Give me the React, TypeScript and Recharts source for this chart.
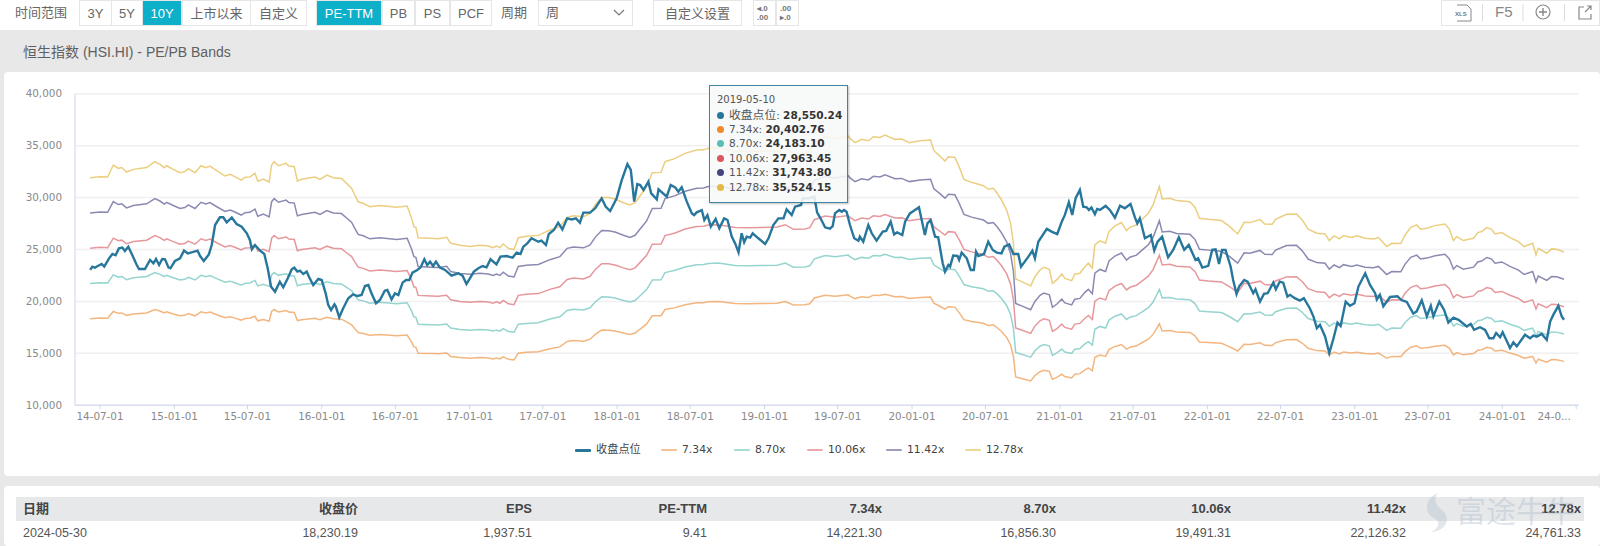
import { CartesianGrid, Legend, Line, LineChart, XAxis, YAxis } from "recharts";

// x values are weeks counted from 2014-07-01
const closeWeeks = [
  -3.5, -2.7, -1.8, -0.8, 0.6, 1.5, 3.2, 4.4, 5.5, 6.7, 7.9, 8.8, 10, 11.4, 13, 13.8, 15.9, 17.7, 18.9, 19.8, 20.9, 22, 23, 24.2, 24.9, 26.5, 28.3, 29.7, 31, 32.4, 34.5, 35.4, 36.7, 38.5, 39.5, 40.7, 42.4, 43.6, 44.8, 46.6, 48.3, 50.1, 51.9, 53, 53.7, 54.8, 56.6, 58.1, 59.3, 60.5, 61.9, 63.6, 64.8, 66.4, 67.8, 68.7, 69.8, 70.7, 71.9, 73.1, 73.9, 75.4, 77.2, 78.4, 79.8, 80.7, 81.7, 82.9,
  83.4, 84.6, 86, 87.8, 89.5, 91, 92.5, 93.7, 94.9, 96, 97.6, 99, 100.7, 101.6, 103.1, 104.3, 105.5, 107, 108.2, 109.4, 110.5, 112.2, 113.4, 114.7, 115.7, 116.7, 117.8, 118.8, 120.2, 122, 124.3, 126.7, 128.2, 129.6, 130.8, 132.2, 133.8, 135.3, 136.7, 138.1, 140.2, 141.6, 143.8, 145.9, 147.3, 148.7, 149.7, 151.1, 152.6, 155, 156.1, 157.7, 158.7, 160.5, 162, 163.5, 165.2, 166.8, 168.3, 169.7,
  170.9, 173.3, 175.1, 177.4, 178.8, 180.4, 182.7, 184.5, 186.5, 187.7, 188.9, 190, 191, 192.2, 193.9, 194.9, 196.9, 197.5, 200.4, 201.8, 203.4, 204.5, 205.7, 207.5, 209.3, 210.1, 211, 212.8, 213.7, 214.8, 216, 217.7, 219, 220.7, 221.9, 223.4, 224.6, 225.8, 226.9, 227.8, 228.7, 229.9, 230.8, 232.8, 235.2, 236.4, 238.1, 239.9, 241.7, 242.8, 244.6, 245.8, 247.9, 248.5, 250.5, 252.6, 253.6,
  254.6, 256.4, 258.1, 259.1, 259.9, 261.4, 262.3, 263.1, 264, 265.2, 266.7, 268.2, 268.7, 269.9, 271.7, 272.9, 274.6, 276.8, 278, 279.6, 280.8, 281.9, 283.7, 284.7, 286.4, 288.2, 289.6, 291.7, 292.6, 293.7, 295.3, 296.4, 298, 298.8, 300, 300.6, 301.7, 303.2, 303.8, 304.7, 306.5, 307.9, 309, 309.8, 310.6, 312.6, 314.1, 315.7, 317.1, 318.8, 319.8, 321.5, 323, 324.7, 325.7, 328.3, 329.7, 330.6, 331.8, 334.8, 336.5, 338.5, 340.1,
  341.2, 342.6, 343.8, 345, 346.5, 347.7, 348.9, 349.7, 350.6, 351.8, 352.6, 353.6, 355.6, 357.1, 358.9, 360.7, 362.4, 364.4, 366, 366.8, 367.7, 369.5, 371.6, 372.8, 374, 375.6, 377.7, 379.5, 381.5, 383.4, 385, 387.4, 388.3, 389.8, 391.9, 393.3, 394.5, 395.7, 396.8, 398, 399.8, 400.7, 401.9, 402.8, 404.6, 405.8, 407.8, 408.6, 410.2, 411.6, 412.9, 414.9, 415.8, 417.2, 418.4, 419.9, 420.8, 422.5, 424.3, 425.7, 427.8,
  429.1, 430.3, 431.4, 433.2, 434.7, 436.2, 437.6, 438.7, 440.5, 442, 443.6, 445, 447.4, 449.1, 450.9, 451.5, 452.6, 453.8, 456.2, 458.8, 460.3, 462.1, 464.4, 465.6, 467.4, 469.2, 470.6, 471.5, 473.6, 475.3, 476.8, 478.6, 480.4, 483.3, 484.7, 485.9, 488, 489.8, 491.3, 492.7, 493.7, 495.1, 496, 498.6, 499.8, 501, 503.9, 505.7, 506.9, 508.1, 509.8, 511.6, 512.8, 513.9, 515.7, 516.9, 517.7,
];

const closeValues = [
  23030, 23350, 23250, 23410, 23600, 23350, 24150, 24570, 24440, 25110, 25180, 24860, 25270, 24470, 23510, 23120, 23120, 23990, 23670, 24090, 23510, 24090, 24060, 23280, 23190, 23890, 24150, 24890, 24630, 24730, 24890, 24370, 23890, 24530, 25430, 27360, 28100, 28100, 27620, 28070, 27460, 27200, 26560, 25920, 25020, 25430, 24890, 24570, 23190, 21420, 20940, 21900, 21360, 22220, 23090, 23250, 22870, 22960, 22640, 22870, 22380, 21580, 22160, 22060, 20780, 19660, 19170, 19720,
  19500, 18470, 19340, 20300, 20680, 20520, 20620, 21480, 21580, 20780, 19820, 20140, 21030, 21100, 20200, 20780, 20620, 21810, 22060, 22060, 22770, 23030, 23280, 24060, 23510, 23830, 23410, 23830, 23250, 23030, 22480, 22710, 22480, 21680, 22220, 22870, 23190, 23410, 23280, 24060, 23570, 24310, 24370, 24210, 24700, 24570, 25270, 25590, 26080, 25750, 25850, 25430, 26490, 26880, 27580, 26940, 28000, 27900, 28000, 27580,
  28550, 28550, 28970, 29930, 29130, 28710, 29930, 31690, 33230, 32660, 29610, 31310, 31210, 30730, 31530, 30410, 29830, 30800, 30090, 31210, 30990, 30570, 30990, 29610, 28480, 28320, 28580, 28800, 27840, 28320, 27200, 27940, 27040, 28000, 27840, 26240, 25590, 24730, 26560, 25690, 26240, 26140, 26560, 26080, 25530, 26080, 27360, 28000, 28000, 28870, 28320, 29130, 29290, 29930, 29930, 30090, 28550,
  28100, 27140, 27010, 27260, 28480, 28800, 28640, 28800, 28640, 27360, 26080, 25850, 26240, 25750, 27360, 26560, 25850, 26720, 26780, 27680, 26460, 26650, 26400, 27680, 28480, 28800, 29060, 26400, 27520, 27840, 26240, 26170, 23670, 22870, 23510, 23350, 24410, 24380, 24000, 24700, 24150, 23030, 23030, 24790, 24370, 24570, 25750, 24950, 24700, 24630, 25270, 25500, 24570, 24570, 23350, 24310, 24890, 24150, 25750, 26980, 26720, 26490, 27680,
  28330, 29550, 28330, 29940, 30740, 29130, 29070, 28810, 29040, 28400, 28910, 28810, 29200, 28810, 28070, 29230, 28970, 29390, 28070, 27530, 28010, 26080, 26400, 24900, 25760, 26240, 24250, 24960, 26180, 24960, 25440, 24000, 24160, 23260, 23420, 24960, 25020, 23610, 24960, 24960, 23360, 22070, 20720, 21430, 22070, 21910, 20790, 21170, 19980, 20720, 20790, 21810, 21170, 21910, 21810, 20470, 20630, 20310, 20080, 20310, 19340,
  18540, 17420, 17740, 16620, 15010, 16450, 17960, 17640, 19980, 19570, 19820, 21430, 22710, 21590, 20790, 20170, 20630, 19530, 20430, 20490, 20110, 19950, 18820, 19040, 20110, 18570, 19570, 18570, 19980, 19180, 17960, 18440, 18220, 17580, 17830, 17260, 17510, 17260, 16450, 16450, 16960, 16550, 17030, 15510, 16060, 15670, 16790, 16450, 16710, 16610, 16870, 16290, 18060, 18700, 19570, 18540, 18230,
];

const bandWeeks = [
  -3.5, 0, 2.7, 4.7, 6.5, 7.7, 9.4, 11.8, 16.5, 19.4, 21.2, 22.7, 23.6, 25.9, 28.3, 30, 31.2, 33.6, 35.7, 37.4, 38.9, 41.3, 44.2, 46, 47.7, 49.9, 51.3, 53, 54.8, 55.8, 57.8, 59.8, 60.7, 61.6, 63.1, 65.8, 66.8, 68.7, 69.8, 71.3, 76, 77.8, 80.2, 82.5,
  85.4, 87.2, 89, 90.1, 91.3, 93.1, 95.4, 99, 104.9, 108.6, 110.2, 111, 111.7, 112.5, 117.2, 119.6, 122.6, 124, 127.3, 130.8, 134.3, 137.3, 139, 140.2, 141.4, 142.6, 144.4, 146.4, 147.9, 150.8, 155, 159.1, 162.6, 165.2, 167.4,
  171, 173.3, 175.1, 177.4, 179.8, 182.1, 185.1, 187.4, 189.2, 191, 193.3, 195.3, 198.4, 199.8, 203.4, 206.9, 211, 213.4, 215.1, 218.6, 224.6, 229.3, 234, 239.5, 242.3, 245.2, 249.3, 251, 252.6, 253.6, 256.4, 260,
  264.6, 265.2, 267, 269.3, 271.7, 273.5, 275.8, 277.6, 281.1, 283.5, 286.2, 290, 293.7, 294.9, 297, 298.8, 300, 302.3, 303.9, 305.5, 308.2, 312.4, 314.1, 315.9, 317.3, 318.8, 320.6, 322, 323, 323.8, 325.9, 329.1, 330.6, 332.4, 333.8, 335.7, 336.8, 338.5, 340.1, 341.2,
  343.6, 344.7, 346.5, 348.3, 349.5, 350.9, 351.8, 353.6, 355.6, 356.8, 358.9, 361.2, 363, 364.2, 366.5, 368.9, 370.7, 372.4, 374.6, 375.6, 378.3, 380.7, 385.4, 387.2, 388.8, 391.9, 396.6, 399.5, 402.3, 404.6, 406.6, 410.2, 411.9, 414.5, 415.7, 419.6, 423.1, 425.1, 427.2,
  430.3, 433.2, 434.7, 436.4, 438.3, 439.7, 442.6, 444.4, 447.4, 450.3, 452.1, 455, 456.8, 460, 461.5, 463.5, 465.6, 467, 469.2, 472.1, 475.6, 477.2, 478.6, 479.8, 482.1, 485.7, 487.2, 488.6, 490.4, 492.1, 493.3, 495.7, 498.6, 501.6, 503.6, 506.6, 507.8, 508.6, 511.6, 513.3, 515.1, 517.7,
];

const band734 = [
  18330, 18390, 18370, 19030, 18850, 18890, 18640, 18790, 18890, 19220, 19070, 18880, 18990, 18790, 18610, 18660, 18830, 18610, 18990, 18880, 18970, 18720, 18420, 18520, 18390, 18200, 18350, 18370, 18570, 18130, 18260, 18090, 19030, 19220, 18990, 19120, 18970, 18940, 18150, 18240, 18370, 18240, 18480, 18330,
  18290, 18020, 17740, 17370, 17000, 16910, 16730, 16800, 16690, 16760, 16080, 15620, 15580, 15010, 14980, 14950, 15030, 14700, 14590, 14530, 14590, 14550, 14460, 14550, 14460, 14660, 14420, 14360, 15010, 15090, 15140, 15440, 15620, 16140, 16230,
  16170, 16360, 16820, 17240, 17230, 17150, 16950, 16820, 16950, 17330, 17830, 18610, 18620, 19220, 19400, 19680, 19860, 19870, 19960, 19990, 19800, 19770, 19800, 19820, 19990, 19650, 19680, 19770, 20330, 20403, 20590, 20500,
  20630, 20500, 20270, 20450, 20380, 20600, 20560, 20690, 20450, 20470, 20270, 20380, 20420, 19830, 19530, 19250, 19490, 19450, 18900, 18240, 18070, 17890, 17690, 17740, 17460, 17100, 16540, 15800, 14700, 12730, 12580, 12340, 12850, 13230, 13370, 13260, 12490, 12700, 13000, 12760,
  12630, 12990, 13040, 13410, 13600, 13320, 14610, 14830, 14700, 15350, 15660, 15850, 15400, 15590, 15720, 16090, 16360, 16820, 17840, 17150, 17190, 17060, 17010, 16690, 16090, 16030, 15960, 15620, 15220, 15860, 15850, 16010, 15770, 15750, 16030, 16310, 16330, 15990, 15480,
  15260, 15220, 14850, 15110, 14940, 15130, 15020, 15110, 14980, 14940, 15020, 14520, 14700, 14680, 15160, 15590, 15720, 15480, 15530, 15680, 15770, 15480, 14850, 15070, 14850, 14980, 15290, 15350, 15570, 15480, 15220, 15290, 15020, 14790, 14520, 14700, 14060, 14430, 14150, 14390, 14370, 14221,
];

const band870 = [
  21730, 21800, 21770, 22560, 22340, 22400, 22100, 22280, 22400, 22780, 22600, 22380, 22510, 22280, 22060, 22130, 22320, 22060, 22510, 22380, 22490, 22190, 21840, 21950, 21800, 21570, 21750, 21770, 22020, 21490, 21640, 21450, 22560, 22780, 22510, 22670, 22490, 22450, 21510, 21620, 21770, 21620, 21900, 21730,
  21680, 21360, 21030, 20590, 20150, 20050, 19830, 19910, 19780, 19870, 19060, 18520, 18470, 17800, 17760, 17730, 17820, 17430, 17290, 17220, 17290, 17250, 17140, 17250, 17140, 17380, 17090, 17030, 17800, 17880, 17950, 18300, 18520, 19130, 19240,
  19170, 19390, 19940, 20440, 20420, 20330, 20090, 19940, 20090, 20550, 21140, 22060, 22080, 22780, 23000, 23320, 23540, 23560, 23660, 23690, 23470, 23430, 23470, 23490, 23690, 23300, 23320, 23430, 24100, 24183, 24410, 24300,
  24460, 24300, 24030, 24240, 24160, 24420, 24370, 24530, 24240, 24260, 24030, 24160, 24200, 23500, 23150, 22820, 23110, 23060, 22410, 21620, 21420, 21210, 20970, 21030, 20700, 20270, 19610, 18740, 17430, 15090, 14910, 14630, 15240, 15680, 15850, 15720, 14800, 15060, 15410, 15130,
  14980, 15400, 15460, 15900, 16120, 15790, 17320, 17590, 17430, 18200, 18570, 18790, 18260, 18480, 18630, 19070, 19400, 19940, 21150, 20340, 20380, 20230, 20160, 19790, 19070, 19000, 18920, 18520, 18040, 18800, 18780, 18980, 18690, 18670, 19000, 19330, 19360, 18960, 18350,
  18090, 18040, 17610, 17910, 17710, 17930, 17800, 17910, 17760, 17710, 17800, 17210, 17430, 17410, 17970, 18480, 18630, 18350, 18420, 18590, 18690, 18350, 17610, 17860, 17610, 17760, 18130, 18200, 18460, 18350, 18040, 18130, 17800, 17540, 17210, 17430, 16670, 17100, 16780, 17060, 17040, 16856,
];

const band1006 = [
  25130, 25210, 25170, 26090, 25840, 25900, 25550, 25760, 25900, 26340, 26140, 25880, 26030, 25760, 25510, 25580, 25810, 25510, 26030, 25880, 26010, 25650, 25250, 25380, 25210, 24950, 25150, 25170, 25460, 24850, 25030, 24800, 26090, 26340, 26030, 26210, 26010, 25960, 24880, 25000, 25170, 25000, 25320, 25130,
  25070, 24690, 24320, 23810, 23300, 23180, 22930, 23030, 22880, 22980, 22040, 21410, 21360, 20580, 20530, 20500, 20600, 20150, 20000, 19920, 20000, 19950, 19820, 19950, 19820, 20100, 19770, 19690, 20580, 20680, 20750, 21160, 21410, 22120, 22250,
  22170, 22420, 23060, 23630, 23620, 23510, 23230, 23060, 23230, 23760, 24440, 25510, 25530, 26340, 26590, 26970, 27220, 27240, 27360, 27390, 27130, 27100, 27130, 27170, 27390, 26940, 26970, 27100, 27870, 27963, 28230, 28100,
  28280, 28100, 27780, 28030, 27930, 28240, 28180, 28360, 28030, 28060, 27780, 27930, 27980, 27170, 26760, 26390, 26720, 26660, 25910, 25000, 24770, 24520, 24250, 24320, 23930, 23430, 22670, 21660, 20150, 17440, 17240, 16920, 17620, 18130, 18330, 18180, 17110, 17410, 17820, 17490,
  17320, 17810, 17880, 18380, 18640, 18260, 20030, 20330, 20150, 21040, 21470, 21730, 21110, 21360, 21550, 22050, 22430, 23060, 24450, 23510, 23570, 23390, 23310, 22880, 22050, 21970, 21880, 21410, 20860, 21740, 21720, 21950, 21620, 21590, 21970, 22360, 22380, 21920, 21220,
  20920, 20860, 20360, 20710, 20480, 20740, 20590, 20710, 20530, 20480, 20590, 19900, 20150, 20130, 20780, 21360, 21550, 21220, 21290, 21490, 21620, 21220, 20360, 20660, 20360, 20530, 20960, 21040, 21340, 21220, 20860, 20960, 20590, 20280, 19900, 20150, 19270, 19770, 19400, 19730, 19700, 19491,
];

const band1142 = [
  28520, 28610, 28580, 29610, 29330, 29400, 29010, 29240, 29400, 29900, 29670, 29380, 29550, 29240, 28950, 29040, 29300, 28950, 29550, 29380, 29520, 29120, 28670, 28810, 28610, 28320, 28550, 28580, 28900, 28210, 28410, 28150, 29610, 29900, 29550, 29760, 29520, 29470, 28240, 28380, 28580, 28380, 28750, 28520,
  28460, 28030, 27600, 27030, 26450, 26320, 26030, 26140, 25970, 26080, 25020, 24310, 24240, 23360, 23300, 23270, 23390, 22880, 22700, 22610, 22700, 22640, 22500, 22640, 22500, 22810, 22440, 22350, 23360, 23480, 23560, 24020, 24310, 25110, 25250,
  25160, 25450, 26170, 26830, 26810, 26680, 26370, 26170, 26370, 26970, 27750, 28950, 28980, 29900, 30190, 30610, 30900, 30920, 31060, 31100, 30800, 30760, 30800, 30840, 31100, 30580, 30610, 30760, 31630, 31744, 32040, 31900,
  32110, 31900, 31540, 31820, 31700, 32050, 31990, 32200, 31820, 31850, 31540, 31700, 31770, 30850, 30380, 29950, 30330, 30270, 29410, 28380, 28120, 27840, 27520, 27600, 27170, 26600, 25740, 24590, 22880, 19800, 19570, 19200, 20000, 20580, 20800, 20630, 19430, 19770, 20230, 19860,
  19660, 20210, 20290, 20870, 21160, 20730, 22730, 23080, 22880, 23890, 24370, 24660, 23970, 24250, 24460, 25030, 25460, 26170, 27760, 26690, 26750, 26550, 26460, 25980, 25030, 24940, 24830, 24310, 23680, 24680, 24650, 24910, 24540, 24510, 24940, 25380, 25400, 24890, 24080,
  23740, 23680, 23110, 23510, 23250, 23540, 23370, 23510, 23300, 23250, 23370, 22590, 22880, 22850, 23590, 24250, 24460, 24080, 24170, 24400, 24540, 24080, 23110, 23450, 23110, 23300, 23800, 23890, 24230, 24080, 23680, 23800, 23370, 23020, 22590, 22880, 21880, 22450, 22020, 22390, 22370, 22126,
];

const band1278 = [
  31920, 32020, 31980, 33140, 32820, 32900, 32460, 32720, 32900, 33460, 33200, 32880, 33070, 32720, 32400, 32500, 32790, 32400, 33070, 32880, 33040, 32590, 32080, 32240, 32020, 31690, 31950, 31980, 32340, 31570, 31790, 31500, 33140, 33460, 33070, 33300, 33040, 32980, 31600, 31760, 31980, 31760, 32170, 31920,
  31850, 31370, 30890, 30250, 29600, 29450, 29130, 29250, 29060, 29190, 28000, 27200, 27130, 26140, 26080, 26040, 26170, 25600, 25400, 25300, 25400, 25340, 25180, 25340, 25180, 25530, 25110, 25010, 26140, 26270, 26360, 26880, 27200, 28100, 28260,
  28160, 28480, 29290, 30020, 30000, 29860, 29510, 29290, 29510, 30180, 31050, 32400, 32430, 33460, 33780, 34260, 34580, 34600, 34760, 34800, 34470, 34420, 34470, 34510, 34800, 34220, 34260, 34420, 35400, 35524, 35860, 35700,
  35930, 35700, 35290, 35610, 35480, 35870, 35800, 36030, 35610, 35640, 35290, 35480, 35550, 34520, 34000, 33520, 33940, 33870, 32910, 31760, 31470, 31150, 30800, 30890, 30400, 29770, 28800, 27520, 25600, 22160, 21900, 21490, 22380, 23030, 23280, 23090, 21740, 22120, 22640, 22220,
  22000, 22620, 22710, 23350, 23680, 23200, 25440, 25830, 25600, 26730, 27270, 27600, 26820, 27140, 27370, 28010, 28490, 29290, 31060, 29870, 29940, 29710, 29610, 29070, 28010, 27910, 27790, 27200, 26500, 27620, 27590, 27880, 27460, 27430, 27910, 28400, 28430, 27850, 26950,
  26570, 26500, 25860, 26310, 26020, 26340, 26150, 26310, 26080, 26020, 26150, 25280, 25600, 25570, 26400, 27140, 27370, 26950, 27050, 27300, 27460, 26950, 25860, 26240, 25860, 26080, 26630, 26730, 27110, 26950, 26500, 26630, 26150, 25760, 25280, 25600, 24480, 25120, 24640, 25060, 25030, 24761,
];

const yTicks = [10000, 15000, 20000, 25000, 30000, 35000, 40000];
const tickWeeks = [0, 26.29, 52.14, 78.43, 104.43, 130.71, 156.57, 182.86, 208.71, 235, 260.86, 287.14, 313.14, 339.43, 365.29, 391.57, 417.43, 443.71, 469.57, 495.86, 522];
const tickLabels = ["14-07-01", "15-01-01", "15-07-01", "16-01-01", "16-07-01", "17-01-01", "17-07-01", "18-01-01", "18-07-01", "19-01-01", "19-07-01", "20-01-01", "20-07-01", "21-01-01", "21-07-01", "22-01-01", "22-07-01", "23-01-01", "23-07-01", "24-01-01", "24-0..."];

const seriesNames = ["收盘点位", "7.34x", "8.70x", "10.06x", "11.42x", "12.78x"];
const seriesColors = ["#27769c", "#ee9a4d", "#6cc3bc", "#dc6f76", "#5d5c93", "#e3bb4d"];
const tooltipColors = ["#27769c", "#ee8a2c", "#5cbdb5", "#d9585f", "#44457f", "#e3b949"];
const tooltipValues = ["28,550.24", "20,402.76", "24,183.10", "27,963.45", "31,743.80", "35,524.15"];

const tableHeads = ["收盘价", "EPS", "PE-TTM", "7.34x", "8.70x", "10.06x", "11.42x", "12.78x"];
const tableRow = ["18,230.19", "1,937.51", "9.41", "14,221.30", "16,856.30", "19,491.31", "22,126.32", "24,761.33"];
const tableRights = [358, 532, 707, 882, 1056, 1231, 1406, 1581];

const zip = (weeks: number[], values: number[]) => weeks.map((week, i) => ({ week, value: values[i] }));

const closeData = zip(closeWeeks, closeValues);
const bandData = [band734, band870, band1006, band1142, band1278].map((b) => zip(bandWeeks, b));

const SANS = '"Liberation Sans", "Noto Sans CJK SC", sans-serif';
const AXIS = '"DejaVu Sans", "Noto Sans CJK SC", sans-serif';

function Box(props: { x: number; w: number; text: string; on?: boolean }) {
  const { x, w, text, on } = props;
  return (
    <div
      style={{
        position: "absolute", left: x, top: 0, width: w, height: 26, lineHeight: "25px", textAlign: "center",
        boxSizing: "border-box", border: "1px solid #e6e6e6", background: on ? "#0eafc9" : "#fff",
        color: on ? "#fff" : "#666", fontSize: 13, fontFamily: SANS,
      }}
    >
      {text}
    </div>
  );
}

function Label(props: { x: number; y: number; text: string; size?: number; color?: string; right?: boolean; bold?: boolean }) {
  const { x, y, text, size = 13, color = "#666", right, bold } = props;
  return (
    <div
      style={{
        position: "absolute", top: y - 10, height: 20, lineHeight: "20px", whiteSpace: "nowrap", fontSize: size, color,
        fontFamily: SANS, fontWeight: bold ? 700 : 400,
        ...(right ? { right: 1600 - x } : { left: x }),
      }}
    >
      {text}
    </div>
  );
}

function XTick(props: any) {
  const { x, y, payload, index } = props;
  const last = index === tickLabels.length - 1;
  return (
    <text x={last ? x - 22 : x} y={y + 9} textAnchor="middle" fontSize={10.4} fill="#8a8a8a" fontFamily={AXIS}>
      {tickLabels[tickWeeks.indexOf(payload.value)]}
    </text>
  );
}

function BandLegend() {
  return (
    <div style={{ position: "relative", height: 16, fontFamily: AXIS, fontSize: 10.8, color: "#444" }}>
      {seriesNames.map((name, i) => (
        <span key={name} style={{ position: "absolute", left: [575, 661, 734, 807, 886, 965][i], top: 0, whiteSpace: "nowrap", lineHeight: "16px" }}>
          <span style={{ display: "inline-block", width: 16, height: i === 0 ? 3 : 2, borderRadius: 1, background: seriesColors[i], opacity: i === 0 ? 1 : 0.6, verticalAlign: "middle", marginRight: 5 }} />
          <span style={i === 0 ? { fontSize: 11.2 } : undefined}>{name}</span>
        </span>
      ))}
    </div>
  );
}

function HoverBox() {
  return (
    <div
      style={{
        position: "absolute", left: 709, top: 85, width: 139, height: 118, boxSizing: "border-box",
        background: "rgba(247,248,248,0.88)", border: "1px solid #3f86a6", boxShadow: "1px 1px 2px rgba(0,0,0,0.25)",
        fontFamily: AXIS, fontSize: 10.5, color: "#555",
      }}
    >
      <div style={{ position: "absolute", left: 7, top: 7, lineHeight: "14px", fontSize: 10 }}>2019-05-10</div>
      {seriesNames.map((name, i) => (
        <div key={name} style={{ position: "absolute", left: 7, top: 21.5 + i * 14.4, lineHeight: "14px", whiteSpace: "nowrap" }}>
          <span style={{ display: "inline-block", width: 7, height: 7, borderRadius: 4, background: tooltipColors[i], marginRight: 5 }} />
          <span style={i === 0 ? { fontSize: 11.8 } : undefined}>{name}</span>: <b style={{ color: "#333" }}>{tooltipValues[i]}</b>
        </div>
      ))}
    </div>
  );
}

function Toolbar() {
  return (
    <div style={{ position: "absolute", left: 0, top: 0, width: 1600, height: 30, background: "#fff" }}>
      <Label x={15} y={13} text="时间范围" />
      <Box x={79} w={33} text="3Y" />
      <Box x={111} w={32} text="5Y" />
      <Box x={142} w={40} text="10Y" on />
      <Box x={182} w={69} text="上市以来" />
      <Box x={250} w={57} text="自定义" />
      <Box x={316} w={66} text="PE-TTM" on />
      <Box x={382} w={33} text="PB" />
      <Box x={415} w={35} text="PS" />
      <Box x={450} w={42} text="PCF" />
      <Label x={501} y={13} text="周期" />
      <Box x={538} w={95} text="" />
      <Label x={546} y={13} text="周" />
      <svg style={{ position: "absolute", left: 613, top: 9 }} width="12" height="8">
        <path d="M1 1 L6 6 L11 1" fill="none" stroke="#777" strokeWidth="1.2" />
      </svg>
      <Box x={653} w={89} text="自定义设置" />
      <Box x={753} w={23} text="" />
      <Box x={776} w={23} text="" />
      <div style={{ position: "absolute", left: 757, top: 4, fontSize: 8, lineHeight: "9px", color: "#777", fontFamily: SANS, fontWeight: 700 }}>◂.0<br />.00</div>
      <div style={{ position: "absolute", left: 780, top: 4, fontSize: 8, lineHeight: "9px", color: "#777", fontFamily: SANS, fontWeight: 700 }}>.00<br />▸.0</div>
      <div style={{ position: "absolute", left: 1441, top: 0, width: 159, height: 26, boxSizing: "border-box", border: "1px solid #e6e6e6", background: "#fff" }} />
      <svg style={{ position: "absolute", left: 1441, top: 0 }} width="159" height="26">
        <path d="M16 5 H26 L30 9 V21 H16" fill="none" stroke="#888" />
        <text x="14" y="16" fontSize="6" fontWeight="700" fill="#777" fontFamily={SANS}>XLS</text>
        <path d="M41.5 4 V21 M82 4 V21 M123.5 4 V21" stroke="#ddd" />
        <circle cx="102" cy="12" r="7" fill="none" stroke="#888" strokeWidth="1.2" />
        <path d="M98 12 H106 M102 8 V16" stroke="#888" strokeWidth="1.4" />
        <path d="M143 7 H138 V19 H150 V14 M144 12 L150 6 M146 6 H150 V10" fill="none" stroke="#888" strokeWidth="1.2" />
      </svg>
      <Label x={1495} y={12} text="F5" size={15} color="#888" />
    </div>
  );
}

export default function App() {
  return (
    <div style={{ position: "absolute", left: 0, top: 0, width: 1600, height: 546, overflow: "hidden", background: "#e8e8e8" }}>
      <Toolbar />
      <Label x={23} y={52} text="恒生指数 (HSI.HI) - PE/PB Bands" size={14} color="#5f5f5f" />

      <div style={{ position: "absolute", left: 4, top: 72, width: 1596, height: 404, background: "#fff", borderRadius: 4 }} />
      <div style={{ position: "absolute", left: 0, top: 72 }}>
        <LineChart width={1600} height={404} margin={{ top: 21.8, right: 21, bottom: 40.8, left: 0 }}>
          <CartesianGrid vertical={false} stroke="#f0f0f2" strokeWidth={1.5} />
          <XAxis
            dataKey="week"
            type="number"
            domain={[-8.84, 523]}
            ticks={tickWeeks}
            interval={0}
            height={30}
            tick={<XTick />}
            tickSize={4}
            tickLine={{ stroke: "#ccd6eb" }}
            axisLine={{ stroke: "#ccd6eb" }}
            allowDataOverflow
          />
          <YAxis
            type="number"
            width={75}
            domain={[10000, 40000]}
            ticks={yTicks}
            interval={0}
            tickFormatter={(v: number) => v.toLocaleString("en-US")}
            tick={{ fontSize: 10.4, fill: "#8a8a8a", fontFamily: AXIS }}
            tickLine={false}
            tickMargin={7}
            axisLine={{ stroke: "#ccd6eb" }}
          />
          <Legend layout="horizontal" verticalAlign="middle" align="center" content={<BandLegend />} wrapperStyle={{ top: 370, left: 0, width: 1600 }} />
          {bandData.map((d, i) => (
            <Line
              key={seriesNames[i + 1]}
              data={d}
              dataKey="value"
              name={seriesNames[i + 1]}
              stroke={seriesColors[i + 1]}
              strokeWidth={1.5}
              strokeOpacity={0.72}
              dot={false}
              isAnimationActive={false}
            />
          ))}
          <Line data={closeData} dataKey="value" name={seriesNames[0]} stroke={seriesColors[0]} strokeWidth={2.4} dot={false} isAnimationActive={false} />
        </LineChart>
      </div>
      <HoverBox />

      <div style={{ position: "absolute", left: 4, top: 486, width: 1596, height: 60, background: "#fff", borderRadius: 4 }} />
      <div style={{ position: "absolute", left: 16, top: 497, width: 1568, height: 24, background: "#e7e8ea" }} />
      <Label x={23} y={509} text="日期" bold color="#444" />
      <Label x={23} y={533} text="2024-05-30" color="#555" size={12.5} />
      {tableHeads.map((head, i) => (
        <Label key={head} x={tableRights[i]} y={509} text={head} right bold color="#444" />
      ))}
      {tableRow.map((cell, i) => (
        <Label key={tableHeads[i]} x={tableRights[i]} y={533} text={cell} right color="#555" size={12.5} />
      ))}

      <svg style={{ position: "absolute", left: 1420, top: 486, overflow: "visible" }} width="178" height="56">
        <path d="M18 7 C4 12 4 28 14 32 C22 36 18 44 10 46 C26 46 32 32 22 24 C14 18 14 12 18 7 Z" fill="rgba(170,185,200,0.35)" />
        <text x="36" y="36" fontSize="30" fill="rgba(170,185,200,0.38)" fontFamily='"Noto Sans CJK SC"'>富途牛牛</text>
      </svg>
    </div>
  );
}
